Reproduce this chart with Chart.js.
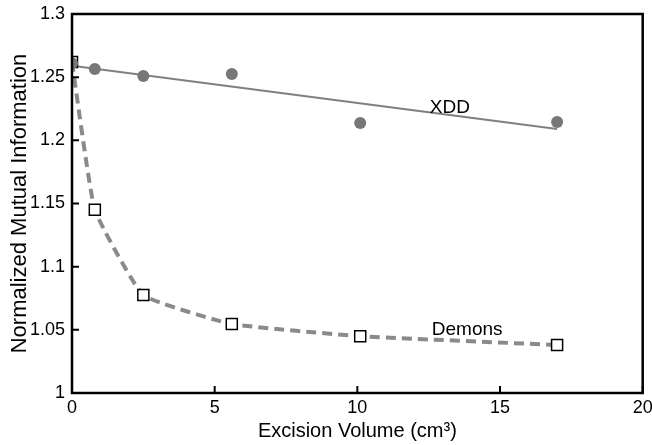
<!DOCTYPE html>
<html><head><meta charset="utf-8">
<script src="https://cdn.jsdelivr.net/npm/chart.js@4/dist/chart.umd.min.js"></script>
<style>html,body{margin:0;padding:0;background:#fff}#wrap{width:652px;height:445px}</style>
</head><body><div id="wrap"><canvas id="c"></canvas></div>
<script>
const xVolumes = [0, 0.8, 2.5, 5.6, 10.1, 17];
const xddValues = [1.261, 1.2565, 1.251, 1.2525, 1.2137, 1.2145];
const demonsValues = [1.262, 1.145, 1.0775, 1.0546, 1.045, 1.038];
const xddFitX = [0, 17];
const xddFitY = [1.259, 1.209];
const xTicks = [0, 5, 10, 15, 20];
const yTicks = [1, 1.05, 1.1, 1.15, 1.2, 1.25, 1.3];
const seriesLabels = [{text: 'XDD', x: 12.54, y: 1.2256}, {text: 'Demons', x: 12.61, y: 1.0498}];

const FONT = "'Liberation Sans', Arial, sans-serif";
const pts = (xs, ys) => xs.map((x, i) => ({x, y: ys[i]}));

const framePlugin = {
  id: 'frame',
  afterDraw(chart) {
    const {ctx, chartArea: a, scales} = chart;
    ctx.save();
    ctx.strokeStyle = '#000';
    ctx.lineWidth = 2;
    ctx.beginPath();
    scales.x.ticks.forEach(t => {
      const px = scales.x.getPixelForValue(t.value);
      ctx.moveTo(px, a.bottom); ctx.lineTo(px, a.bottom - 7);
    });
    scales.y.ticks.forEach(t => {
      const py = scales.y.getPixelForValue(t.value);
      ctx.moveTo(a.left, py); ctx.lineTo(a.left + 7, py);
    });
    ctx.stroke();
    ctx.lineWidth = 2.5;
    ctx.strokeRect(a.left, a.top, a.right - a.left, a.bottom - a.top);
    ctx.fillStyle = '#000';
    ctx.font = '19px ' + FONT;
    ctx.textAlign = 'left';
    ctx.textBaseline = 'middle';
    seriesLabels.forEach(l => {
      ctx.fillText(l.text, scales.x.getPixelForValue(l.x), scales.y.getPixelForValue(l.y));
    });
    ctx.restore();
  }
};

new Chart(document.getElementById('c'), {
  type: 'scatter',
  data: {
    datasets: [
      {
        label: 'XDD', data: pts(xVolumes, xddValues), order: 0,
        showLine: false, pointStyle: 'circle', pointRadius: 6,
        backgroundColor: '#777777', borderColor: '#777777', borderWidth: 0
      },
      {
        label: 'Demons', data: pts(xVolumes, demonsValues), order: 1,
        showLine: true, tension: 0.12,
        borderColor: '#8a8a8a', borderWidth: 4, borderDash: [10, 6],
        pointStyle: 'rect', pointRadius: 7.8,
        pointBackgroundColor: '#fff', pointBorderColor: '#000', pointBorderWidth: 1.5
      },
      {
        label: 'XDD fit', data: pts(xddFitX, xddFitY), order: 2,
        showLine: true, borderColor: '#808080', borderWidth: 2, pointRadius: 0
      }
    ]
  },
  options: {
    responsive: true, maintainAspectRatio: false, animation: false,
    layout: {padding: {top: 14, right: 9, left: 0, bottom: 0}},
    plugins: {legend: {display: false}, tooltip: {enabled: false}},
    scales: {
      x: {
        type: 'linear', min: 0, max: 20,
        afterBuildTicks: s => { s.ticks = xTicks.map(v => ({value: v})); },
        afterFit: s => { s.height = 52; s.paddingRight = 0; s.paddingLeft = 0; },
        grid: {display: false, drawTicks: false},
        border: {display: false},
        ticks: {color: '#000', font: {family: FONT, size: 18}, padding: 4, maxRotation: 0},
        title: {display: true, text: 'Excision Volume (cm\u00b3)', color: '#000',
                font: {family: FONT, size: 20}, padding: {top: 0, bottom: 2}}
      },
      y: {
        min: 1, max: 1.3,
        afterBuildTicks: s => { s.ticks = yTicks.map(v => ({value: v})); },
        afterFit: s => { s.width = 72; s.paddingTop = 0; s.paddingBottom = 0; },
        grid: {display: false, drawTicks: false},
        border: {display: false},
        ticks: {color: '#000', font: {family: FONT, size: 18}, padding: 7,
                callback: v => String(Math.round(v * 100) / 100)},
        title: {display: true, text: 'Normalized Mutual Information', color: '#000',
                font: {family: FONT, size: 22}, padding: {top: 6.5, bottom: 0}}
      }
    }
  },
  plugins: [framePlugin]
});
</script></body></html>
